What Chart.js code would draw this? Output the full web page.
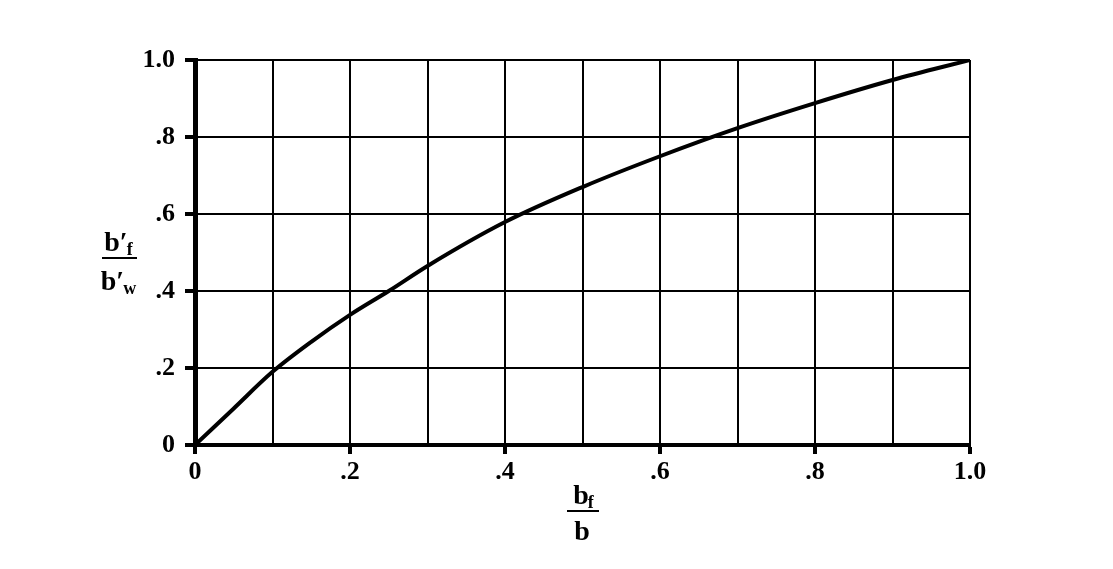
<!DOCTYPE html>
<html>
<head>
<meta charset="utf-8">
<script src="https://cdn.jsdelivr.net/npm/chart.js@4.4.1/dist/chart.umd.min.js"></script>
<style>
  html, body { margin: 0; padding: 0; background: #fff; }
  #wrap { width: 1113px; height: 569px; }
</style>
</head>
<body>
<div id="wrap"><canvas id="chart" width="1113" height="569"></canvas></div>
<script>
// values
const ratioX = [0, 0.05, 0.1, 0.15, 0.2, 0.25, 0.3, 0.4, 0.5, 0.6, 0.7, 0.8, 0.9, 1.0];
const ratioY = [0, 0.095, 0.19, 0.268, 0.338, 0.40, 0.465, 0.579, 0.670, 0.75, 0.823, 0.888, 0.948, 1.0];
const xTickLabels = ['0', '.2', '.4', '.6', '.8', '1.0'];
const yTickLabels = ['0', '.2', '.4', '.6', '.8', '1.0'];

const serif = '"Liberation Serif", "DejaVu Serif", serif';

// b'f / b'w and bf / b as stacked fractions
const fracTitles = {
  id: 'fracTitles',
  afterDraw(chart) {
    const ctx = chart.ctx;
    ctx.save();
    ctx.fillStyle = '#000';
    ctx.strokeStyle = '#000';
    ctx.textBaseline = 'alphabetic';

    const drawSym = (base, sub, cx, baseline) => {
      ctx.font = 'bold 28px ' + serif;
      const w1 = ctx.measureText(base).width;
      ctx.font = 'bold 18px ' + serif;
      const w2 = ctx.measureText(sub).width;
      const left = cx - (w1 + w2) / 2;
      ctx.font = 'bold 28px ' + serif;
      ctx.textAlign = 'left';
      ctx.fillText(base, left, baseline);
      ctx.font = 'bold 18px ' + serif;
      ctx.fillText(sub, left + w1 - 1, baseline + 4);
    };

    // y title
    drawSym('b\u2032', 'f', 119, 251);
    ctx.lineWidth = 2;
    ctx.beginPath();
    ctx.moveTo(102, 258);
    ctx.lineTo(137, 258);
    ctx.stroke();
    drawSym('b\u2032', 'w', 119, 290);

    // x title
    drawSym('b', 'f', 584, 504);
    ctx.beginPath();
    ctx.moveTo(567, 511);
    ctx.lineTo(599, 511);
    ctx.stroke();
    ctx.font = 'bold 28px ' + serif;
    ctx.textAlign = 'center';
    ctx.fillText('b', 582, 540);
    ctx.restore();
  }
};

const points = ratioX.map((x, i) => ({ x: x, y: ratioY[i] }));

new Chart(document.getElementById('chart'), {
  type: 'scatter',
  data: {
    datasets: [{
      data: points,
      showLine: true,
      borderColor: '#000',
      borderWidth: 4,
      pointRadius: 0,
      cubicInterpolationMode: 'monotone'
    }]
  },
  options: {
    responsive: false,
    animation: false,
    layout: { padding: { left: 0, top: 60, right: 143, bottom: 0 } },
    plugins: { legend: { display: false }, tooltip: { enabled: false } },
    scales: {
      x: {
        type: 'linear',
        min: 0,
        max: 1,
        afterFit: (scale) => { scale.height = 124; },
        border: { display: true, color: '#000', width: 4 },
        grid: {
          color: '#000',
          lineWidth: 2,
          tickLength: 9,
          tickWidth: 4,
          tickColor: (c) => (c.index % 2 === 0 ? '#000' : 'rgba(0,0,0,0)')
        },
        ticks: {
          stepSize: 0.1,
          autoSkip: false,
          maxRotation: 0,
          padding: 3,
          color: '#000',
          font: { family: serif, size: 26, weight: 'bold' },
          callback: (v, i) => (i % 2 === 0 ? xTickLabels[i / 2] : '')
        }
      },
      y: {
        type: 'linear',
        min: 0,
        max: 1,
        afterFit: (scale) => { scale.width = 195; },
        border: { display: true, color: '#000', width: 5 },
        grid: {
          color: '#000',
          lineWidth: 2,
          tickLength: 10,
          tickWidth: 4
        },
        ticks: {
          stepSize: 0.2,
          padding: 10,
          color: '#000',
          font: { family: serif, size: 26, weight: 'bold' },
          callback: (v, i) => yTickLabels[i]
        }
      }
    }
  },
  plugins: [fracTitles]
});
</script>
</body>
</html>
